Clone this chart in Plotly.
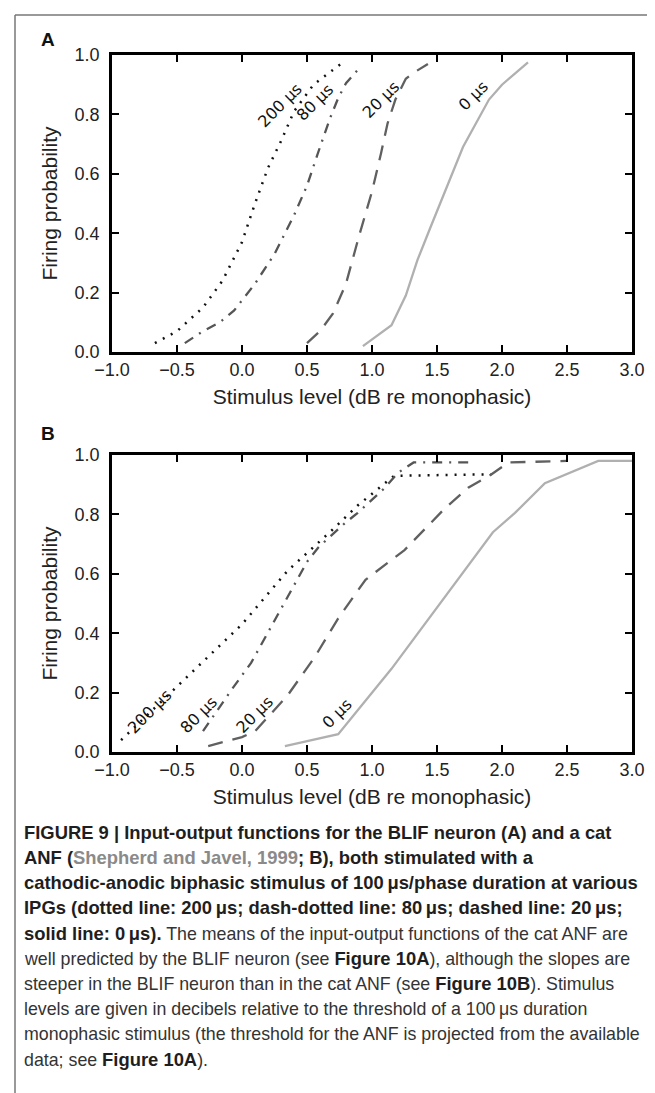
import plotly.graph_objects as go

# Panel A: BLIF neuron, input-output functions per IPG
a_x_200 = [-0.67, -0.50, -0.30, -0.15, 0.00, 0.10, 0.20, 0.30, 0.40, 0.55, 0.76]
a_y_200 = [0.03, 0.07, 0.15, 0.24, 0.37, 0.50, 0.62, 0.71, 0.81, 0.90, 0.97]
a_x_80 = [-0.44, -0.30, -0.17, -0.06, 0.10, 0.25, 0.40, 0.50, 0.60, 0.68, 0.74, 0.80, 0.92]
a_y_80 = [0.03, 0.07, 0.10, 0.14, 0.23, 0.33, 0.46, 0.56, 0.69, 0.79, 0.855, 0.905, 0.965]
a_x_20 = [0.50, 0.60, 0.70, 0.80, 0.90, 1.00, 1.07, 1.12, 1.18, 1.26, 1.32, 1.43]
a_y_20 = [0.03, 0.07, 0.13, 0.23, 0.39, 0.54, 0.67, 0.77, 0.85, 0.92, 0.94, 0.97]
a_x_0 = [0.93, 1.15, 1.26, 1.35, 1.45, 1.55, 1.70, 1.80, 1.90, 2.00, 2.20]
a_y_0 = [0.02, 0.09, 0.19, 0.31, 0.42, 0.53, 0.69, 0.77, 0.85, 0.90, 0.975]

# Panel B: cat ANF (Shepherd and Javel, 1999)
b_x_200 = [-0.93, -0.55, 0.00, 0.35, 0.70, 0.89, 1.17, 1.92]
b_y_200 = [0.04, 0.20, 0.43, 0.61, 0.75, 0.83, 0.93, 0.935]
b_x_80 = [-0.30, -0.08, 0.07, 0.22, 0.35, 0.50, 0.59, 0.79, 0.89, 1.10, 1.20, 1.32, 1.74]
b_y_80 = [0.07, 0.21, 0.30, 0.42, 0.52, 0.64, 0.69, 0.77, 0.805, 0.89, 0.94, 0.975, 0.975]
b_x_20 = [-0.26, 0.00, 0.10, 0.35, 0.56, 0.74, 0.95, 1.25, 1.56, 1.74, 1.92, 2.05, 2.50]
b_y_20 = [0.02, 0.05, 0.07, 0.19, 0.32, 0.45, 0.58, 0.68, 0.82, 0.89, 0.935, 0.975, 0.98]
b_x_0 = [0.33, 0.74, 1.15, 1.66, 1.93, 2.10, 2.33, 2.74, 3.00]
b_y_0 = [0.02, 0.06, 0.28, 0.58, 0.74, 0.805, 0.905, 0.98, 0.98]

ipg_labels = ["200 μs", "80 μs", "20 μs", "0 μs"]
a_label_x = [0.29, 0.56, 1.07, 1.78]
a_label_y = [0.83, 0.84, 0.85, 0.865]
b_label_x = [-0.71, -0.33, 0.10, 0.73]
b_label_y = [0.135, 0.125, 0.125, 0.13]

x_ticks = [-1.0, -0.5, 0.0, 0.5, 1.0, 1.5, 2.0, 2.5, 3.0]
y_ticks = [0.0, 0.2, 0.4, 0.6, 0.8, 1.0]

W, H = 655, 1093
STYLES = [
    dict(color="#111111", width=2.5, dash="2px,7px"),
    dict(color="#555555", width=2.3, dash="10px,7px,2px,7px"),
    dict(color="#606060", width=2.3, dash="15px,10px"),
    dict(color="#b0b0b0", width=2.3, dash="solid"),
]


def px_x(p):
    return p / W


def px_y(p):
    return 1 - p / H


fig = go.Figure()

panels = [
    ("x", "y", [(a_x_200, a_y_200), (a_x_80, a_y_80), (a_x_20, a_y_20), (a_x_0, a_y_0)],
     a_label_x, a_label_y),
    ("x2", "y2", [(b_x_200, b_y_200), (b_x_80, b_y_80), (b_x_20, b_y_20), (b_x_0, b_y_0)],
     b_label_x, b_label_y),
]

for xa, ya, series, lx, ly in panels:
    for (xs, ys), st in zip(series, STYLES):
        fig.add_trace(go.Scatter(x=xs, y=ys, mode="lines", line=st, xaxis=xa, yaxis=ya,
                                 showlegend=False, hoverinfo="skip"))
    for txt, x, y in zip(ipg_labels, lx, ly):
        fig.add_annotation(x=x, y=y, xref=xa, yref=ya, text=txt, showarrow=False,
                           textangle=-45, font=dict(family="DejaVu Sans", size=16, color="#111"))

axis_common = dict(
    showline=True, linecolor="black", linewidth=2.7, mirror="ticks",
    ticks="inside", ticklen=7, tickwidth=1.5, tickcolor="black",
    showgrid=False, zeroline=False, automargin=False,
    tickfont=dict(family="Liberation Sans", size=18, color="#222"),
    title_font=dict(family="Liberation Sans", size=21, color="#222"),
)

x_dom = [px_x(104), px_x(624)]
fig.update_layout(
    width=W, height=H,
    margin=dict(l=0, r=0, t=0, b=0),
    paper_bgcolor="white", plot_bgcolor="white",
    xaxis=dict(axis_common, domain=x_dom, range=[-1, 3], tickvals=x_ticks, tickformat=".1f",
               anchor="y", title=dict(text="Stimulus level (dB re monophasic)", standoff=10)),
    yaxis=dict(axis_common, domain=[px_y(344), px_y(47)], range=[0, 1], tickvals=y_ticks,
               tickformat=".1f", anchor="x", ticklabelstandoff=6,
               title=dict(text="Firing probability", standoff=12)),
    xaxis2=dict(axis_common, domain=x_dom, range=[-1, 3], tickvals=x_ticks, tickformat=".1f",
                anchor="y2", title=dict(text="Stimulus level (dB re monophasic)", standoff=10)),
    yaxis2=dict(axis_common, domain=[px_y(744), px_y(447)], range=[0, 1], tickvals=y_ticks,
                tickformat=".1f", anchor="x2", ticklabelstandoff=6,
                title=dict(text="Firing probability", standoff=12)),
)

# panel letters
for letter, yp in [("A", 31), ("B", 425)]:
    fig.add_annotation(x=px_x(40), y=px_y(yp), xref="paper", yref="paper", text=f"<b>{letter}</b>",
                       showarrow=False, xanchor="center", yanchor="middle",
                       font=dict(family="Liberation Sans", size=19, color="#111"))

# frame lines of the figure box
fig.add_shape(type="line", xref="paper", yref="paper", x0=px_x(7), x1=1, y0=px_y(7), y1=px_y(7),
              line=dict(color="#777", width=1.5))
fig.add_shape(type="line", xref="paper", yref="paper", x0=px_x(7), x1=px_x(7), y0=px_y(7), y1=0,
              line=dict(color="#777", width=1.5))


def reg(s):
    # regular-weight caption text is set a bit narrower than the bold part
    return f"<span style='font-size:17.8px;color:#333'>{s}</span>"


# caption, one annotation per line
grey = "<span style='color:#8a8a8a'>Shepherd and Javel, 1999</span>"
caption_lines = [
    "<b>FIGURE 9 | Input-output functions for the BLIF neuron (A) and a cat</b>",
    f"<b>ANF ({grey}; B), both stimulated with a</b>",
    "<b>cathodic-anodic biphasic stimulus of 100\u2009μs/phase duration at various</b>",
    "<b>IPGs (dotted line: 200\u2009μs; dash-dotted line: 80\u2009μs; dashed line: 20\u2009μs;</b>",
    "<b>solid line: 0\u2009μs).</b>" + reg(" The means of the input-output functions of the cat ANF are"),
    reg("well predicted by the BLIF neuron (see ") + "<b>Figure 10A</b>"
    + reg("), although the slopes are"),
    reg("steeper in the BLIF neuron than in the cat ANF (see ") + "<b>Figure 10B</b>"
    + reg("). Stimulus"),
    reg("levels are given in decibels relative to the threshold of a 100\u2009μs duration"),
    reg("monophasic stimulus (the threshold for the ANF is projected from the available"),
    reg("data; see ") + "<b>Figure 10A</b>" + reg(")."),
]
for i, line in enumerate(caption_lines):
    fig.add_annotation(x=px_x(14), y=px_y(824 + i * 25.3), xref="paper", yref="paper",
                       text=line, showarrow=False, xanchor="left", yanchor="middle", align="left",
                       font=dict(family="Liberation Sans", size=18.4, color="#1e1e1e"))

fig.write_html("out.html")
